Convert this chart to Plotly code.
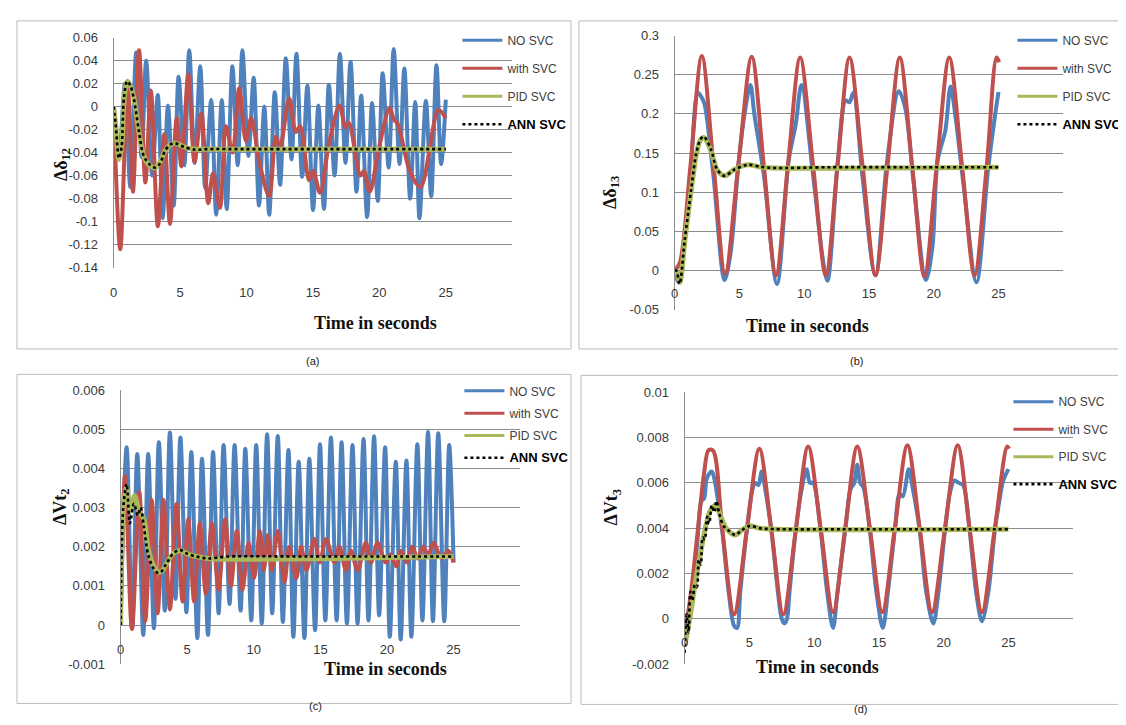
import plotly.graph_objects as go

W, H = 1126, 725

# ---------------- data ----------------
x_ticks = [0, 5, 10, 15, 20, 25]
x_labels = ["0", "5", "10", "15", "20", "25"]
series_names = ["NO SVC", "with SVC", "PID SVC", "ANN SVC"]

# panel (a)  delta-delta12
a_yticks = [0.06, 0.04, 0.02, 0, -0.02, -0.04, -0.06, -0.08, -0.1, -0.12, -0.14]
a_ylabels = ["0.06", "0.04", "0.02", "0", "-0.02", "-0.04", "-0.06", "-0.08", "-0.1", "-0.12", "-0.14"]
a_no_t = [0, 0.4, 0.85, 1.25, 1.7, 2.1, 2.45, 2.9, 3.32, 3.69, 4.09, 4.52, 4.89, 5.32, 5.69, 6.09, 6.52, 6.89, 7.34, 7.72,
          8.14, 8.51, 8.94, 9.34, 9.69, 10.14, 10.54, 10.94, 11.34, 11.71, 12.13, 12.53, 12.96, 13.39, 13.76, 14.19, 14.58,
          15.01, 15.41, 15.83, 16.2, 16.63, 17.03, 17.45, 17.83, 18.28, 18.63, 19.08, 19.45, 19.88, 20.25, 20.7, 21.08,
          21.52, 21.88, 22.32, 22.7, 23.02, 23.5, 23.9, 24.3, 24.65, 25.0]
a_no_v = [0, -0.045, 0.02, -0.07, 0.047, -0.044, 0.04, -0.06, 0.01, -0.097, 0.001, -0.086, 0.026, -0.051, 0.049, -0.049,
          0.035, -0.071, 0.0056, -0.094, 0.0056, -0.089, 0.035, -0.051, 0.049, -0.043, 0.025, -0.086, 0.0, -0.094, 0.0125,
          -0.068, 0.042, -0.046, 0.046, -0.061, 0.018, -0.09, 0.001, -0.089, 0.019, -0.06, 0.046, -0.049, 0.039, -0.074,
          0.0097, -0.096, 0.003, -0.082, 0.029, -0.053, 0.05, -0.05, 0.033, -0.08, 0.004, -0.097, 0.005, -0.078, 0.036,
          -0.05, 0.006]
a_with_t = [0, 0.5, 1.05, 1.45, 1.91, 2.39, 2.8, 3.33, 3.81, 4.24, 4.75, 5.1, 5.62, 6.09, 6.6, 7.12, 7.48, 8.0, 8.45, 8.95,
            9.45, 9.95, 10.35, 11.0, 11.71, 12.21, 12.53, 13.21, 13.71, 14.04, 14.71, 15.03, 15.53, 16.2, 17.0, 17.45,
            17.7, 18.58, 18.83, 19.28, 19.95, 20.78, 21.08, 21.38, 22.32, 23.1, 24.45, 25.0]
a_with_v = [0, -0.124, 0.021, -0.074, 0.049, -0.066, 0.014, -0.104, -0.024, -0.102, -0.01, -0.052, 0.028, -0.048, -0.006,
            -0.084, -0.058, -0.088, -0.017, -0.04, 0.016, -0.03, -0.01, -0.05, -0.078, -0.026, -0.035, 0.007, -0.022,
            -0.017, -0.064, -0.056, -0.075, -0.033, 0.001, -0.018, -0.014, -0.06, -0.056, -0.074, -0.037, -0.001, -0.011,
            -0.015, -0.057, -0.07, -0.003, -0.01]
a_pid_t = [0, 0.15, 0.4, 0.62, 0.8, 1.05, 1.3, 1.55, 1.9, 2.3, 2.8, 3.15, 3.5, 3.85, 4.3, 4.7, 5.3, 6.1, 7.0, 25.0]
a_pid_v = [0, -0.016, -0.046, -0.033, 0.008, 0.022, 0.017, 0.006, -0.022, -0.044, -0.052, -0.053, -0.048, -0.039, -0.033,
           -0.032, -0.035, -0.037, -0.037, -0.037]
a_ann_t = [0, 0.15, 0.4, 0.6, 0.77, 1.02, 1.27, 1.52, 1.9, 2.27, 2.77, 3.15, 3.52, 3.84, 4.27, 4.64, 5.27, 6.14, 7.0, 10.0,
           15.0, 20.0, 25.0]
a_ann_v = [0, -0.015, -0.045, -0.035, 0.007, 0.022, 0.018, 0.007, -0.021, -0.043, -0.051, -0.053, -0.049, -0.039, -0.033,
           -0.032, -0.035, -0.0375, -0.037, -0.037, -0.037, -0.037, -0.037]

# panel (b)  delta-delta13
b_yticks = [0.3, 0.25, 0.2, 0.15, 0.1, 0.05, 0, -0.05]
b_ylabels = ["0.3", "0.25", "0.2", "0.15", "0.1", "0.05", "0", "-0.05"]
b_no_t = [0, 0.3, 0.8, 1.25, 1.79, 2.05, 2.3, 3.0, 3.85, 4.3, 4.95, 5.4, 5.85, 6.15, 6.9, 7.9, 8.8, 9.35, 9.79, 10.7,
          11.5, 11.8, 12.6, 13.2, 13.5, 13.8, 14.5, 15.5, 16.4, 17.3, 17.8, 18.4, 19.4, 19.9, 20.3, 20.9, 21.3, 21.7,
          22.3, 23.3, 24.2, 24.7, 25.0]
b_no_v = [0, -0.015, 0.04, 0.13, 0.227, 0.222, 0.213, 0.12, -0.012, 0.02, 0.14, 0.2, 0.237, 0.2, 0.12, -0.017, 0.14,
          0.187, 0.237, 0.12, 0.008, -0.013, 0.14, 0.217, 0.215, 0.227, 0.12, -0.006, 0.14, 0.229, 0.208, 0.12, -0.012,
          0.03, 0.14, 0.179, 0.235, 0.194, 0.11, -0.015, 0.13, 0.194, 0.228]
b_with_t = [0, 0.4, 1.2, 2.1, 3.0, 3.9, 4.92, 5.95, 6.88, 7.82, 8.75, 9.69, 10.68, 11.67, 12.58, 13.5, 14.5, 15.5, 16.44,
            17.38, 18.33, 19.28, 20.24, 21.2, 22.18, 23.15, 24.1, 24.85, 25.05]
b_with_v = [0, 0.01, 0.13, 0.274, 0.135, -0.004, 0.135, 0.273, 0.135, -0.006, 0.135, 0.272, 0.135, -0.006, 0.135, 0.272,
            0.135, -0.006, 0.135, 0.272, 0.135, -0.0075, 0.135, 0.272, 0.135, -0.006, 0.135, 0.272, 0.266]
b_pid_t = [0, 0.15, 0.4, 0.8, 1.3, 1.7, 2.0, 2.25, 2.8, 3.3, 3.85, 4.6, 5.6, 6.7, 7.7, 25.0]
b_pid_v = [0, -0.002, -0.015, 0.04, 0.105, 0.15, 0.167, 0.17, 0.153, 0.128, 0.121, 0.129, 0.135, 0.132, 0.131, 0.132]
b_ann_t = [0, 0.13, 0.38, 0.77, 1.28, 1.67, 2.0, 2.26, 2.82, 3.28, 3.85, 4.62, 5.64, 6.67, 7.69, 12.0, 18.0, 25.0]
b_ann_v = [0, 0.0, -0.017, 0.0375, 0.104, 0.15, 0.168, 0.171, 0.154, 0.129, 0.121, 0.129, 0.135, 0.1325, 0.131, 0.132,
           0.132, 0.132]

# panel (c)  delta-Vt2
c_yticks = [0.006, 0.005, 0.004, 0.003, 0.002, 0.001, 0, -0.001]
c_ylabels = ["0.006", "0.005", "0.004", "0.003", "0.002", "0.001", "0", "-0.001"]
c_no_t = [0, 0.45, 0.87, 1.25, 1.7, 2.07, 2.5, 2.87, 3.32, 3.7, 4.12, 4.49, 4.94, 5.31, 5.76, 6.11, 6.56, 6.94, 7.36,
          7.73, 8.18, 8.56, 9.01, 9.36, 9.81, 10.18, 10.6, 11.0, 11.38, 11.8, 12.18, 12.6, 12.97, 13.37, 13.8, 14.17,
          14.6, 14.97, 15.37, 15.79, 16.22, 16.59, 16.99, 17.41, 17.79, 18.24, 18.61, 19.03, 19.41, 19.86, 20.21, 20.66,
          21.03, 21.46, 21.83, 22.28, 22.66, 23.08, 23.45, 23.85, 24.3, 24.67, 25.0]
c_no_v = [0, 0.00454, -0.00008, 0.00437, -0.00025, 0.00437, -0.00008, 0.00467, 0.00037, 0.00492, 0.00067, 0.00479,
          0.00033, 0.00442, -0.00033, 0.00425, -0.00025, 0.00442, 0.0003, 0.0046, 0.00054, 0.0046, 0.00037, 0.0045,
          0.00012, 0.0046, 0.00004, 0.00487, 0.0003, 0.00483, 0.00008, 0.00447, -0.0003, 0.00417, -0.00033, 0.00425,
          -0.00013, 0.00462, 0.00012, 0.00479, 0.00012, 0.00467, 0.00004, 0.0046, 0.00004, 0.00475, 0.00012, 0.00482,
          0.00025, 0.00454, -0.0003, 0.00417, -0.00037, 0.0042, -0.0003, 0.00462, 0.00012, 0.00493, 0.0001, 0.0049,
          0.0001, 0.0046, 0.0016]
c_with_t = [0, 0.33, 0.85, 1.4, 1.85, 2.33, 2.78, 3.22, 3.7, 4.2, 4.65, 5.08, 5.52, 5.95, 6.4, 6.85, 7.35, 7.85, 8.28,
            8.72, 9.15, 9.6, 10.02, 10.45, 10.75, 11.05, 11.35, 11.8, 12.3, 12.67, 13.2, 13.55, 13.95, 14.55, 14.95,
            15.42, 16.05, 16.42, 16.92, 17.3, 17.79, 18.41, 18.8, 19.29, 19.9, 20.25, 20.7, 21.03, 21.5, 21.9, 22.3,
            22.7, 23.1, 23.5, 24.1, 24.6, 25.0]
c_with_v = [0, 0.0038, -0.0001, 0.0034, 0.0001, 0.0032, 0.0003, 0.0032, 0.0004, 0.0031, 0.0006, 0.0027, 0.0006, 0.0026,
            0.0008, 0.0026, 0.0009, 0.0027, 0.001, 0.0024, 0.0009, 0.0021, 0.0012, 0.0024, 0.0014, 0.0023, 0.0014,
            0.0024, 0.0011, 0.002, 0.0012, 0.002, 0.0014, 0.0022, 0.0016, 0.0022, 0.0016, 0.002, 0.0014, 0.0019, 0.0014,
            0.0021, 0.0016, 0.0021, 0.0016, 0.0018, 0.0015, 0.0019, 0.0016, 0.002, 0.0017, 0.002, 0.0018, 0.0021,
            0.0017, 0.0019, 0.0016]
c_pid_t = [0, 0.2, 0.45, 0.75, 1.05, 1.4, 1.75, 2.1, 2.5, 2.85, 3.1, 3.5, 4.0, 4.5, 5.0, 5.7, 6.6, 25.0]
c_pid_v = [0, 0.0029, 0.0035, 0.0029, 0.0033, 0.0029, 0.0027, 0.0019, 0.0015, 0.00135, 0.00138, 0.0016, 0.00185, 0.0019,
           0.00182, 0.00175, 0.0017, 0.00175]
c_ann_t = [0, 0.2, 0.45, 0.7, 1.0, 1.3, 1.5, 1.75, 2.07, 2.45, 2.82, 3.07, 3.45, 3.95, 4.45, 4.94, 5.69, 6.56, 8.0, 14.0,
           20.0, 25.0]
c_ann_v = [0, 0.003, 0.0036, 0.0026, 0.0031, 0.0028, 0.003, 0.0025, 0.0018, 0.00146, 0.00133, 0.00137, 0.00158, 0.00183,
           0.00192, 0.00183, 0.00175, 0.0017, 0.00175, 0.00175, 0.00175, 0.00175]

# panel (d)  delta-Vt3
d_yticks = [0.01, 0.008, 0.006, 0.004, 0.002, 0, -0.002]
d_ylabels = ["0.01", "0.008", "0.006", "0.004", "0.002", "0", "-0.002"]
d_no_t = [0, 0.3, 0.6, 1.0, 1.3, 1.5, 1.72, 2.1, 2.36, 2.5, 2.9, 3.4, 3.82, 4.05, 4.3, 4.8, 5.2, 5.44, 5.7, 5.95, 6.2,
          6.7, 7.2, 7.5, 7.7, 7.9, 8.1, 8.58, 9.0, 9.41, 9.67, 9.92, 10.5, 11.0, 11.46, 11.8, 12.4, 12.8, 13.1, 13.33,
          13.55, 13.8, 14.3, 14.8, 15.3, 15.7, 16.23, 16.6, 16.85, 17.3, 17.6, 18.15, 18.65, 19.2, 19.6, 20.1, 20.5,
          20.82, 21.15, 21.5, 22.0, 22.5, 22.95, 23.45, 23.95, 24.3, 24.6, 25.0]
d_no_v = [-0.001, 0.0003, 0.0013, 0.0035, 0.0052, 0.0053, 0.0062, 0.0065, 0.006, 0.0055, 0.0039, 0.0012, -0.0003,
          -0.0004, 0.0012, 0.0039, 0.0056, 0.006, 0.0059, 0.0065, 0.0058, 0.0039, 0.0012, 0.0, -0.0002, 0.0, 0.0012,
          0.0039, 0.0056, 0.0066, 0.006, 0.006, 0.0039, 0.0012, -0.0004, 0.0012, 0.0039, 0.0057, 0.006, 0.0068, 0.006,
          0.0058, 0.0039, 0.0012, -0.0004, 0.0012, 0.0039, 0.0055, 0.0054, 0.0066, 0.0058, 0.0039, 0.0012, -0.0002,
          0.0012, 0.0039, 0.0056, 0.0061, 0.006, 0.0059, 0.0039, 0.0012, -0.0001, 0.0012, 0.0039, 0.0052, 0.0061,
          0.0066]
d_with_t = [0, 0.5, 1.0, 1.5, 1.85, 2.2, 2.9, 3.82, 4.8, 5.77, 6.7, 7.62, 8.58, 9.54, 10.5, 11.46, 12.4, 13.33, 14.3,
            15.26, 16.23, 17.2, 18.15, 19.1, 20.1, 21.08, 22.0, 22.95, 23.95, 24.9, 25.05]
d_with_v = [-0.0008, 0.0012, 0.0038, 0.0064, 0.00744, 0.00742, 0.004, 0.0002, 0.0039, 0.0075, 0.0039, 0.0002, 0.0039,
            0.0076, 0.004, 0.0003, 0.004, 0.0076, 0.004, 0.0003, 0.004, 0.00765, 0.004, 0.0003, 0.004, 0.00765, 0.004,
            0.0003, 0.004, 0.0076, 0.0075]
d_pid_t = [0, 0.4, 0.8, 1.2, 1.6, 2.0, 2.4, 2.8, 3.2, 3.9, 4.4, 5.0, 5.8, 7.0, 25.0]
d_pid_v = [-0.0012, 0.0, 0.0015, 0.0028, 0.004, 0.0048, 0.005, 0.0045, 0.004, 0.0037, 0.0039, 0.0041, 0.004, 0.00395,
           0.00395]
d_ann_t = [0, 0.15, 0.3, 0.45, 0.6, 0.8, 0.95, 1.1, 1.25, 1.4, 1.55, 1.75, 1.9, 2.1, 2.3, 2.45, 2.65, 3.0, 3.4, 3.9, 4.4,
           5.05, 5.8, 6.85, 12.0, 18.0, 25.0]
d_ann_v = [-0.0015, 0.0002, -0.0006, 0.0012, 0.0008, 0.0015, 0.0014, 0.0026, 0.0024, 0.0036, 0.0035, 0.0045, 0.0042,
           0.005, 0.0047, 0.0052, 0.0047, 0.0041, 0.0039, 0.0037, 0.0039, 0.0041, 0.004, 0.00396, 0.00395, 0.00395,
           0.00395]

# ---------------- layout helpers ----------------
def px(x):
    return x / W


def py(y):
    return 1 - y / H


COLORS = ["#4F81BD", "#C0504D", "#AAB85A", "#000000"]
GRID = "#8c8c8c"
TICKFONT = dict(family="Liberation Sans", size=13, color="#3a3a3a")

panels = [
    dict(s="", box=(102, 502, 23, 258), yr=(-0.14, 0.06), yt=a_yticks, yl=a_ylabels, zero_axis=False, xstand=15,
         series=[(a_no_t, a_no_v), (a_with_t, a_with_v), (a_pid_t, a_pid_v), (a_ann_t, a_ann_v)],
         leg=(447, 11, 9), ytitle="Δδ<sub>12</sub>", ytpos=(37, 134), xtpos=(301, 314),
         frame=(5, 6, 561, 341), cap="(a)", cappos=(293, 353)),
    dict(s="2", box=(665, 1055, 21, 301), yr=(-0.05, 0.3), yt=b_yticks, yl=b_ylabels, zero_axis=True, xstand=13,
         series=[(b_no_t, b_no_v), (b_with_t, b_with_v), (b_pid_t, b_pid_v), (b_ann_t, b_ann_v)],
         leg=(1004, 11, 9), ytitle="Δδ<sub>13</sub>", ytpos=(601, 162), xtpos=(862, 318),
         frame=(569, 6, 1121, 341), cap="(b)", cappos=(856, 353)),
    dict(s="3", box=(109, 510, 383, 663), yr=(-0.001, 0.006), yt=c_yticks, yl=c_ylabels, zero_axis=True, xstand=15,
         series=[(c_no_t, c_no_v), (c_with_t, c_with_v), (c_pid_t, c_pid_v), (c_ann_t, c_ann_v)],
         leg=(449, 369, 3.3), ytitle="ΔVt<sub>2</sub>", ytpos=(36, 523), xtpos=(311, 680),
         frame=(5, 367, 561, 703), cap="(c)", cappos=(296, 714)),
    dict(s="4", box=(675, 1065, 385, 663), yr=(-0.002, 0.01), yt=d_yticks, yl=d_ylabels, zero_axis=True, xstand=14,
         series=[(d_no_t, d_no_v), (d_with_t, d_with_v), (d_pid_t, d_pid_v), (d_ann_t, d_ann_v)],
         leg=(1000, 380, 8.5), ytitle="ΔVt<sub>3</sub>", ytpos=(603, 523), xtpos=(872, 678),
         frame=(571, 368, 1121, 704), cap="(d)", cappos=(860, 717)),
]

fig = go.Figure()
layout = dict(width=W, height=H, margin=dict(l=0, r=0, t=0, b=0), autosize=False,
              paper_bgcolor="white", plot_bgcolor="white", showlegend=True,
              annotations=[], shapes=[])

widths = [4, 4, 5, 2.6]
leg_widths = [3, 3, 3, 2.6]
for i, p in enumerate(panels):
    s = p["s"]
    xname, yname = "x" + s, "y" + s
    legname = "legend" + s
    x0, x1, yt, yb = p["box"]
    ydom = [py(yb), py(yt)]
    ylo, yhi = p["yr"]
    xa = dict(domain=[px(x0), px(x1)], range=[0, 30], showgrid=False, zeroline=False, showline=False,
              tickvals=x_ticks, ticktext=x_labels, ticks="", tickfont=TICKFONT, fixedrange=True,
              ticklabelstandoff=p["xstand"])
    if p["zero_axis"]:
        xa.update(anchor="free", position=ydom[0] + (0 - ylo) / (yhi - ylo) * (ydom[1] - ydom[0]))
    else:
        xa.update(anchor=yname)
    ya = dict(domain=ydom, range=[ylo, yhi], anchor=xname, showgrid=True, gridcolor=GRID, gridwidth=1,
              zeroline=False, showline=True, linecolor=GRID, linewidth=1, tickvals=p["yt"], ticktext=p["yl"],
              ticks="", tickfont=TICKFONT, ticklabelstandoff=12, fixedrange=True)
    layout["xaxis" + s] = xa
    layout["yaxis" + s] = ya

    # the curves (legend entries are drawn by thin legend-only twins below)
    for k, (tt, vv) in enumerate(p["series"]):
        line = dict(color=COLORS[k], width=widths[k], shape="spline", smoothing=0.9)
        if k == 3:
            line["dash"] = "3px,3px"
        fig.add_trace(go.Scatter(x=tt, y=vv, mode="lines", line=line, name=series_names[k], xaxis=xname,
                                 yaxis=yname, showlegend=False, hoverinfo="skip"))
    for k in range(4):
        line = dict(color=COLORS[k], width=leg_widths[k])
        if k == 3:
            line["dash"] = "3px,3px"
            name = "<b><span style='font-size:13px;color:#000000'>ANN SVC</span></b>"
        else:
            name = series_names[k]
        fig.add_trace(go.Scatter(x=[None], y=[None], mode="lines", line=line, name=name, xaxis=xname,
                                 yaxis=yname, legend=legname, legendgroup=f"g{s}_{k}", hoverinfo="skip"))

    lx, ly, gap = p["leg"]
    layout[legname] = dict(x=px(lx), y=py(ly), xanchor="left", yanchor="top", bgcolor="rgba(0,0,0,0)",
                           font=dict(family="Liberation Sans", size=12, color="#404040"),
                           tracegroupgap=gap, itemwidth=40, traceorder="grouped")

    layout["annotations"].append(dict(text="<b>Time in seconds</b>", x=px(p["xtpos"][0]), y=py(p["xtpos"][1]),
                                      xref="paper", yref="paper", showarrow=False,
                                      font=dict(family="Liberation Serif", size=18, color="#111111")))
    layout["annotations"].append(dict(text="<b>" + p["ytitle"] + "</b>", x=px(p["ytpos"][0]), y=py(p["ytpos"][1]),
                                      xref="paper", yref="paper", showarrow=False, textangle=-90,
                                      font=dict(family="Liberation Serif", size=18, color="#111111")))
    layout["annotations"].append(dict(text=p["cap"], x=px(p["cappos"][0]), y=py(p["cappos"][1]),
                                      xref="paper", yref="paper", showarrow=False,
                                      font=dict(family="Liberation Sans", size=11, color="#222222")))
    fx0, fy0, fx1, fy1 = p["frame"]
    layout["shapes"].append(dict(type="rect", xref="paper", yref="paper", x0=px(fx0), x1=px(fx1),
                                 y0=py(fy1), y1=py(fy0), line=dict(color="#bcbcbc", width=1), layer="below"))

fig.update_layout(**layout)
fig.write_html("out.html")
